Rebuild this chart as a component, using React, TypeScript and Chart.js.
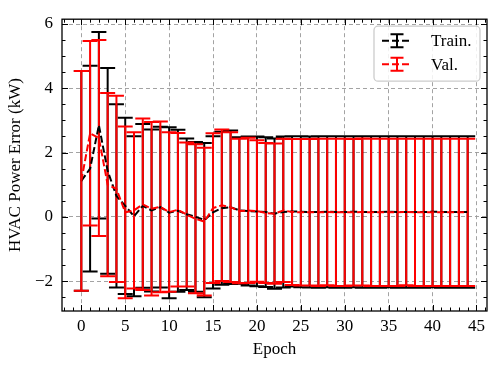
import React, { useEffect, useRef } from 'react';
import { Chart, registerables } from 'chart.js';

Chart.register(...registerables);

// ---------------- data ----------------
const epochs = [0, 1, 2, 3, 4, 5, 6, 7, 8, 9, 10, 11, 12, 13, 14, 15, 16, 17, 18, 19, 20, 21, 22, 23, 24, 25, 26, 27, 28, 29, 30, 31, 32, 33, 34, 35, 36, 37, 38, 39, 40, 41, 42, 43, 44];

const trainMean = [1.12, 1.5, 2.85, 1.43, 0.65, 0.34, 0.02, 0.34, 0.2, 0.3, 0.13, 0.19, 0.08, 0.0, -0.1, 0.14, 0.27, 0.3, 0.2, 0.18, 0.17, 0.15, 0.1, 0.15, 0.17, 0.16, 0.15, 0.15, 0.16, 0.15, 0.15, 0.16, 0.15, 0.15, 0.15, 0.16, 0.15, 0.15, 0.15, 0.15, 0.16, 0.15, 0.15, 0.15, 0.15];
const trainStd = [3.42, 3.2, 2.9, 3.2, 2.85, 2.74, 2.49, 2.55, 2.52, 2.5, 2.66, 2.52, 2.36, 2.33, 2.4, 2.37, 2.38, 2.39, 2.28, 2.32, 2.33, 2.33, 2.34, 2.35, 2.34, 2.35, 2.35, 2.36, 2.35, 2.36, 2.36, 2.35, 2.36, 2.36, 2.36, 2.35, 2.36, 2.36, 2.36, 2.36, 2.35, 2.36, 2.36, 2.36, 2.36];

const valMean = [1.12, 2.6, 2.45, 1.0, 0.87, 0.14, 0.2, 0.39, 0.25, 0.31, 0.15, 0.22, 0.07, -0.06, -0.15, 0.27, 0.36, 0.3, 0.18, 0.2, 0.18, 0.12, 0.1, 0.2, 0.15, 0.14, 0.14, 0.14, 0.15, 0.14, 0.14, 0.14, 0.15, 0.14, 0.14, 0.14, 0.14, 0.15, 0.14, 0.14, 0.14, 0.14, 0.14, 0.14, 0.14];
const valStd = [3.42, 2.87, 3.05, 2.85, 2.9, 2.67, 2.43, 2.67, 2.7, 2.66, 2.48, 2.39, 2.24, 2.32, 2.3, 2.33, 2.36, 2.33, 2.25, 2.26, 2.2, 2.18, 2.18, 2.23, 2.27, 2.28, 2.28, 2.29, 2.28, 2.29, 2.29, 2.28, 2.29, 2.29, 2.29, 2.29, 2.29, 2.28, 2.29, 2.29, 2.29, 2.29, 2.29, 2.29, 2.29];

const seriesNames = ['Train.', 'Val.'];
const seriesColors = ['#000000', '#ff0000'];
const xLabel = 'Epoch';
const yLabel = 'HVAC Power Error (kW)';
const xMajorStep = 5;
const yMajorStep = 2;
const xMinorStep = 1;
const yMinorStep = 0.5;

const FONT = "'Liberation Serif', 'Times New Roman', serif";

const errorBarPlugin = {
  id: 'errorBars',
  beforeDatasetsDraw(chart: any) {
    const { ctx, chartArea, scales } = chart;
    const xs = scales.x;
    const ys = scales.y;
    const series = [
      { mean: trainMean, std: trainStd, color: seriesColors[0] },
      { mean: valMean, std: valStd, color: seriesColors[1] },
    ];
    ctx.save();
    ctx.beginPath();
    ctx.rect(chartArea.left, chartArea.top, chartArea.right - chartArea.left, chartArea.bottom - chartArea.top);
    ctx.clip();
    const cap = 7.5;
    for (const s of series) {
      ctx.strokeStyle = s.color;
      ctx.lineWidth = 2;
      ctx.setLineDash([]);
      ctx.beginPath();
      for (let i = 0; i < epochs.length; i++) {
        const px = xs.getPixelForValue(epochs[i]);
        const t = ys.getPixelForValue(s.mean[i] + s.std[i]);
        const b = ys.getPixelForValue(s.mean[i] - s.std[i]);
        ctx.moveTo(px, t);
        ctx.lineTo(px, b);
      }
      ctx.stroke();
      ctx.beginPath();
      for (let i = 0; i < epochs.length; i++) {
        const px = xs.getPixelForValue(epochs[i]);
        const t = ys.getPixelForValue(s.mean[i] + s.std[i]);
        const b = ys.getPixelForValue(s.mean[i] - s.std[i]);
        ctx.moveTo(px - cap, t);
        ctx.lineTo(px + cap, t);
        ctx.moveTo(px - cap, b);
        ctx.lineTo(px + cap, b);
      }
      ctx.stroke();
    }
    ctx.restore();
  },
  afterDraw(chart: any) {
    const { ctx, chartArea, scales } = chart;
    const xs = scales.x;
    const ys = scales.y;
    const { left, right, top, bottom } = chartArea;
    ctx.save();
    // inward ticks
    ctx.strokeStyle = '#000';
    ctx.lineWidth = 1;
    ctx.setLineDash([]);
    ctx.beginPath();
    const xStart = Math.ceil(xs.min / xMinorStep) * xMinorStep;
    for (let v = xStart; v <= xs.max + 1e-9; v += xMinorStep) {
      const px = Math.round(xs.getPixelForValue(v)) + 0.5;
      const major = Math.abs(v / xMajorStep - Math.round(v / xMajorStep)) < 1e-6;
      const len = major ? 6 : 3.5;
      ctx.moveTo(px, bottom);
      ctx.lineTo(px, bottom - len);
      ctx.moveTo(px, top);
      ctx.lineTo(px, top + len);
    }
    const yStart = Math.ceil(ys.min / yMinorStep) * yMinorStep;
    for (let v = yStart; v <= ys.max + 1e-9; v += yMinorStep) {
      const py = Math.round(ys.getPixelForValue(v)) + 0.5;
      const major = Math.abs(v / yMajorStep - Math.round(v / yMajorStep)) < 1e-6;
      const len = major ? 6 : 3.5;
      ctx.moveTo(left, py);
      ctx.lineTo(left + len, py);
      ctx.moveTo(right, py);
      ctx.lineTo(right - len, py);
    }
    ctx.stroke();
    // frame
    ctx.lineWidth = 1.3;
    ctx.strokeRect(left, top, right - left, bottom - top);

    // legend
    const bw = 106;
    const bh = 55;
    const bx = right - 7 - bw;
    const by = top + 7;
    ctx.beginPath();
    ctx.roundRect(bx, by, bw, bh, 4);
    ctx.fillStyle = 'rgba(255,255,255,0.85)';
    ctx.fill();
    ctx.strokeStyle = '#cccccc';
    ctx.lineWidth = 1.3;
    ctx.stroke();
    const rows = [by + 14.5, by + 38];
    for (let k = 0; k < 2; k++) {
      const ry = rows[k];
      const cx = bx + 23;
      ctx.strokeStyle = seriesColors[k];
      ctx.lineWidth = 2;
      ctx.setLineDash([7, 3]);
      ctx.beginPath();
      ctx.moveTo(bx + 8, ry);
      ctx.lineTo(bx + 38, ry);
      ctx.stroke();
      ctx.setLineDash([]);
      ctx.beginPath();
      ctx.moveTo(cx, ry - 6.5);
      ctx.lineTo(cx, ry + 6.5);
      ctx.moveTo(cx - 6.5, ry - 6.5);
      ctx.lineTo(cx + 6.5, ry - 6.5);
      ctx.moveTo(cx - 6.5, ry + 6.5);
      ctx.lineTo(cx + 6.5, ry + 6.5);
      ctx.stroke();
      ctx.fillStyle = '#000';
      ctx.font = `17px ${FONT}`;
      ctx.textBaseline = 'middle';
      ctx.textAlign = 'left';
      ctx.fillText(seriesNames[k], bx + 57, ry + 1);
    }
    ctx.restore();
  },
};

export default function App() {
  const ref = useRef<HTMLCanvasElement | null>(null);
  useEffect(() => {
    if (!ref.current) return;
    Chart.defaults.font.family = FONT;
    const chart = new Chart(ref.current, {
      type: 'line',
      data: {
        datasets: [
          {
            label: seriesNames[1],
            data: epochs.map((e, i) => ({ x: e, y: valMean[i] })),
            borderColor: seriesColors[1],
            borderWidth: 2,
            borderDash: [7, 3],
            pointRadius: 0,
            tension: 0,
            fill: false,
            order: 0,
          },
          {
            label: seriesNames[0],
            data: epochs.map((e, i) => ({ x: e, y: trainMean[i] })),
            borderColor: seriesColors[0],
            borderWidth: 2,
            borderDash: [7, 3],
            pointRadius: 0,
            tension: 0,
            fill: false,
            order: 1,
          },
        ],
      },
      options: {
        responsive: false,
        animation: false,
        maintainAspectRatio: false,
        layout: { padding: { left: 0, right: 11, top: 10, bottom: 0 } },
        plugins: { legend: { display: false }, tooltip: { enabled: false } },
        scales: {
          x: {
            type: 'linear',
            min: -2.2,
            max: 46.2,
            ticks: {
              stepSize: xMajorStep,
              includeBounds: false,
              color: '#000',
              font: { size: 17, family: FONT },
              padding: 5,
              maxRotation: 0,
              autoSkip: false,
            },
            grid: { color: '#999999', lineWidth: 0.9, drawTicks: false },
            border: { display: false, dash: [4, 3] },
            title: {
              display: true,
              text: xLabel,
              color: '#000',
              font: { size: 17, family: FONT },
              padding: { top: 0, bottom: 7 },
            },
            afterFit: (s: any) => {
              s.height = 56;
            },
          },
          y: {
            type: 'linear',
            min: -2.93,
            max: 6.15,
            ticks: {
              stepSize: yMajorStep,
              includeBounds: false,
              color: '#000',
              font: { size: 17, family: FONT },
              padding: 9,
              callback: (v: any) => (v < 0 ? '\u2212' + Math.abs(v) : String(v)),
            },
            grid: { color: '#999999', lineWidth: 0.9, drawTicks: false },
            border: { display: false, dash: [4, 3] },
            title: {
              display: true,
              text: yLabel,
              color: '#000',
              font: { size: 17, family: FONT },
              padding: { top: 5, bottom: 0 },
            },
            afterFit: (s: any) => {
              s.width = 62;
            },
          },
        },
      },
      plugins: [errorBarPlugin],
    });
    return () => chart.destroy();
  }, []);
  return (
    <div style={{ position: 'fixed', left: 0, top: 0, width: 498, height: 367, background: '#fff' }}>
      <canvas ref={ref} width={498} height={367} />
    </div>
  );
}
